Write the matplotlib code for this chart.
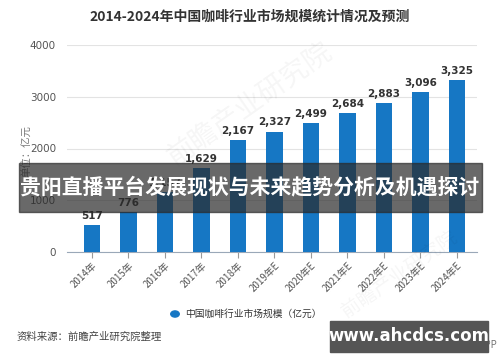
import matplotlib.pyplot as plt
from matplotlib.patches import Rectangle

plt.rcParams['font.family'] = ['Noto Sans CJK SC', 'DejaVu Sans']

years = ["2014年", "2015年", "2016年", "2017年", "2018年", "2019年E",
         "2020年E", "2021年E", "2022年E", "2023年E", "2024年E"]
market = [517, 776, 1157, 1629, 2167, 2327, 2499, 2684, 2883, 3096, 3325]
labels = ["517", "776", "1,157", "1,629", "2,167", "2,327", "2,499",
          "2,684", "2,883", "3,096", "3,325"]
yticks = [0, 1000, 2000, 3000, 4000]

W, H = 500, 362
fig = plt.figure(figsize=(W / 100, H / 100), dpi=100)

def px(x0, y0, x1, y1):
    # pixel box (top-left origin) -> figure fraction rect
    return [x0 / W, 1 - y1 / H, (x1 - x0) / W, (y1 - y0) / H]

ax = fig.add_axes(px(67, 45, 477, 252))
x = range(len(years))
ax.bar(x, market, width=0.46, color="#1677c4", zorder=3)
for xi, v, lab in zip(x, market, labels):
    ax.annotate(lab, (xi, v), xytext=(0, 3), textcoords="offset points",
                ha="center", va="bottom", fontsize=7.5, fontweight="bold",
                color="#333333", family="DejaVu Sans")

ax.set_ylim(0, 4000)
ax.set_xlim(-0.685, 10.55)
ax.set_yticks(yticks)
ax.set_yticklabels([str(t) for t in yticks], fontsize=7.5, color="#555555",
                   family="DejaVu Sans")
ax.set_xticks(list(x))
ax.set_xticklabels(years, rotation=45, ha="right", rotation_mode="anchor",
                   fontsize=7, color="#555555")
ax.tick_params(axis="y", length=0, pad=8)
ax.tick_params(axis="x", length=4, color="#999999", pad=2)
ax.grid(axis="y", color="#e3e3e3", linewidth=0.8, zorder=0)
for s in ["top", "right", "left"]:
    ax.spines[s].set_visible(False)
ax.spines["bottom"].set_color("#9aa8b8")
ax.set_ylabel("单位：亿元", fontsize=7.5, color="#777777")
ax.yaxis.set_label_coords(-0.085, 0.49)

fig.text(0.5, 1 - 17 / H, "2014-2024年中国咖啡行业市场规模统计情况及预测",
         ha="center", va="center", fontsize=10, fontweight="bold", color="#333333")

# faint watermarks
fig.text(0.5, 1 - 105 / H, "前瞻产业研究院", fontsize=20, color="#000000",
         alpha=0.04, rotation=35, ha="center", va="center")
fig.text(0.8, 1 - 275 / H, "前瞻产业研究院", fontsize=14, color="#000000",
         alpha=0.04, rotation=35, ha="center", va="center")

# legend
fig.patches.append(plt.Circle((175 / W, 1 - 314 / H), 0.0085, transform=fig.transFigure,
                              color="#1677c4", figure=fig))
fig.text(185 / W, 1 - 314 / H, "中国咖啡行业市场规模（亿元）", fontsize=7,
         color="#333333", va="center", ha="left")

fig.text(17 / W, 1 - 337 / H, "资料来源：前瞻产业研究院整理", fontsize=7.5,
         color="#444444", va="center", ha="left")
fig.text(497 / W, 1 - 345 / H, "@前瞻经济学人APP", fontsize=7,
         color="#777777", va="center", ha="right")

# banner overlay
fig.patches.append(Rectangle((19 / W, 1 - 212 / H), 463 / W, 49 / H,
                             transform=fig.transFigure, color="#2a2a2a",
                             alpha=0.7, zorder=10, figure=fig))
fig.text(250 / W, 1 - 187 / H, "贵阳直播平台发展现状与未来趋势分析及机遇探讨",
         ha="center", va="center", fontsize=15, fontweight="bold",
         color="white", zorder=11)

# site box
fig.patches.append(Rectangle((330 / W, 1 - 352 / H), 158 / W, 31 / H,
                             transform=fig.transFigure, color="#555555",
                             zorder=10, figure=fig))
fig.text(409 / W, 1 - 336 / H, "www.ahcdcs.com", ha="center", va="center",
         fontsize=12, fontweight="bold", color="white", zorder=11,
         family="DejaVu Sans")

fig.savefig("out.png", dpi=100)
